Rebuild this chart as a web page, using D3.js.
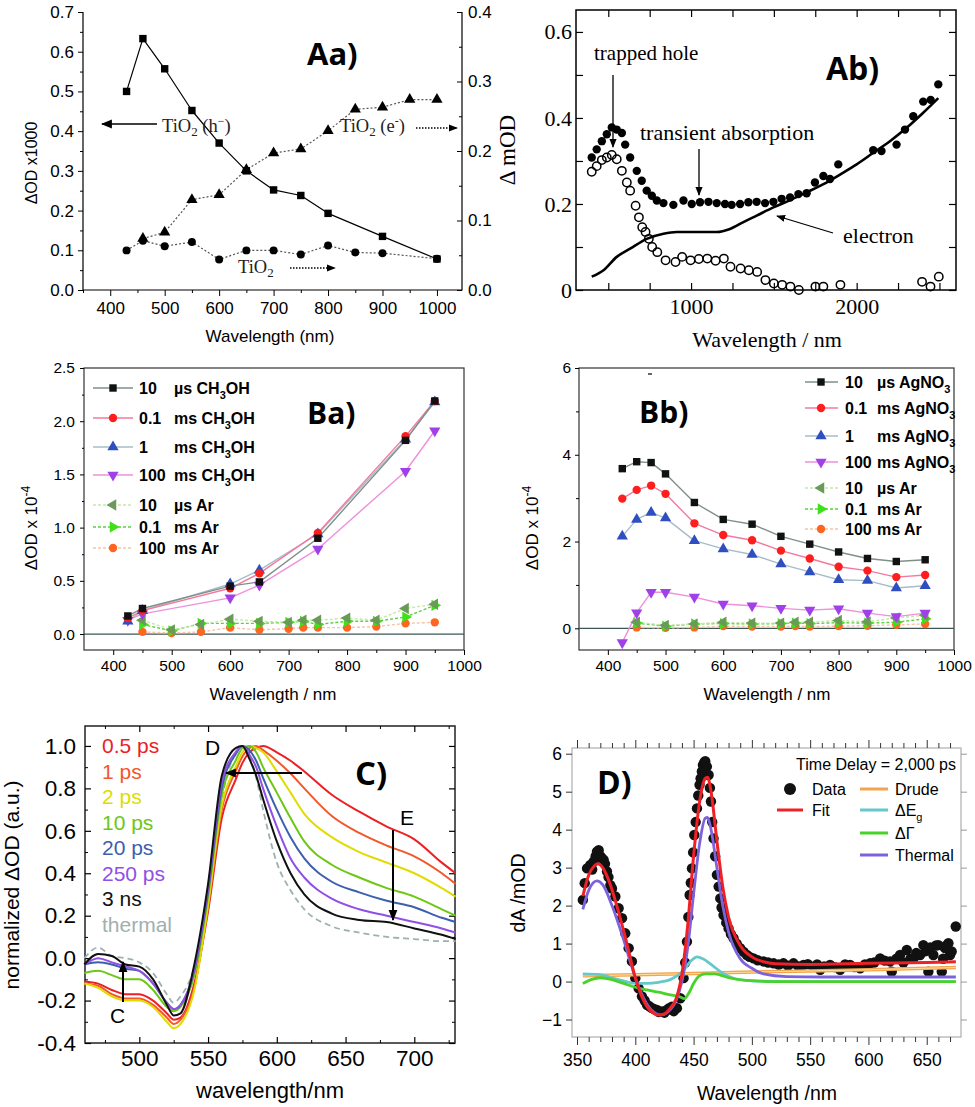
<!DOCTYPE html>
<html><head><meta charset="utf-8">
<script src="https://cdn.jsdelivr.net/npm/d3@7"></script>
<style>body{margin:0;background:#fff}svg{display:block}</style>
</head><body>
<svg width="975" height="1107"></svg>
<script>
// ---------------- DATA ----------------
// Panel Aa
const aaWl_h = [430,460,500,550,600,650,700,750,800,900,1000];
const aaHole = [0.50,0.633,0.557,0.452,0.37,0.30,0.252,0.238,0.193,0.135,0.078]; // left axis
const aaWl_e = [460,500,550,600,650,700,750,800,850,900,950,1000];
const aaElec = [0.074,0.083,0.130,0.137,0.173,0.197,0.203,0.229,0.260,0.263,0.274,0.274]; // right axis
const aaWl_t = [430,460,500,550,600,650,700,750,800,850,900,1000];
const aaTiO2 = [0.057,0.071,0.063,0.069,0.044,0.057,0.057,0.051,0.064,0.054,0.053,0.045]; // right axis
const aaXTicks = [400,500,600,700,800,900,1000];
const aaYTicks = [0,0.1,0.2,0.3,0.4,0.5,0.6,0.7];
const aaY2Ticks = [0,0.1,0.2,0.3,0.4];

// Panel Ab
const abWl_ta = [400,430,461,491,521,551,582,602,632,672,702,732,763,793,833,893,954,1004,1054,1105,1155,1205,1245,1296,1346,1396,1447,1497,1547,1598,1648,1698,1748,1799,1839,1889,2100,2150,2241,2292,2342,2402,2447,2493];
const abTA = [0.308,0.327,0.346,0.362,0.378,0.373,0.365,0.338,0.308,0.277,0.254,0.231,0.219,0.208,0.202,0.198,0.208,0.2,0.204,0.205,0.202,0.2,0.198,0.2,0.204,0.205,0.202,0.205,0.212,0.215,0.223,0.225,0.25,0.265,0.258,0.292,0.325,0.323,0.338,0.373,0.404,0.438,0.442,0.478];
const abWl_th = [400,430,461,491,521,551,582,612,632,665,685,705,725,745,765,796,846,906,946,997,1047,1098,1148,1198,1238,1299,1349,1399,1449,1500,1550,1600,1651,1751,1799,1902,2395,2446,2496];
const abTH = [0.275,0.288,0.302,0.308,0.314,0.304,0.277,0.25,0.231,0.196,0.169,0.146,0.135,0.119,0.1,0.088,0.069,0.065,0.077,0.069,0.072,0.073,0.068,0.073,0.054,0.05,0.046,0.042,0.023,0.015,0.012,0.008,0.0,0.008,0.008,0.012,0.019,0.008,0.031];
const abWl_el = [400,471,551,632,732,833,914,1034,1155,1235,1316,1396,1497,1598,1698,1799,1902,2000,2100,2201,2302,2402,2493];
const abEl = [0.031,0.046,0.077,0.096,0.119,0.131,0.135,0.135,0.135,0.142,0.158,0.173,0.192,0.209,0.227,0.246,0.269,0.292,0.319,0.346,0.377,0.412,0.446];
const abXTicks = [500,750,1000,1250,1500,1750,2000,2250,2500];
const abYTicks = [0,0.1,0.2,0.3,0.4,0.5,0.6];

// Panel Ba
const baWl = [425,450,600,650,750,900,950];
const ba10us = [0.17,0.24,0.45,0.49,0.90,1.82,2.19];
const ba01ms = [0.15,0.22,0.43,0.57,0.95,1.86,2.19];
const ba1ms = [0.12,0.22,0.47,0.60,0.94,1.83,2.18];
const ba100ms = [0.13,0.19,0.34,0.46,0.80,1.53,1.91];
const baWlAr = [450,500,550,600,650,700,725,750,800,850,900,950];
const baAr10us = [0.13,0.04,0.09,0.14,0.12,0.11,0.13,0.13,0.15,0.13,0.24,0.28];
const baAr01ms = [0.09,0.03,0.10,0.10,0.10,0.11,0.12,0.09,0.12,0.12,0.16,0.27];
const baAr100ms = [0.02,0.01,0.02,0.06,0.04,0.05,0.06,0.06,0.06,0.07,0.10,0.11];
const baLegendNum = ["10","0.1","1","100","10","0.1","100"];
const baLegendUnit = ["µs","ms","ms","ms","µs","ms","ms"];
const baLegendSub = ["CH3OH","CH3OH","CH3OH","CH3OH","Ar","Ar","Ar"];
const bXTicks = [400,500,600,700,800,900,1000];
const baYTicks = [0,0.5,1.0,1.5,2.0,2.5];

// Panel Bb
const bbWl = [425,450,475,500,550,600,650,700,750,800,850,900,950];
const bb10us = [3.68,3.84,3.82,3.56,2.90,2.51,2.40,2.12,1.94,1.76,1.61,1.54,1.58];
const bb01ms = [2.99,3.19,3.29,3.10,2.42,2.15,2.03,1.79,1.61,1.42,1.33,1.18,1.23];
const bb1ms = [2.12,2.51,2.67,2.54,2.02,1.83,1.70,1.48,1.30,1.12,1.10,0.93,0.98];
const bb100ms = [-0.33,0.36,0.83,0.83,0.72,0.56,0.52,0.46,0.42,0.45,0.35,0.27,0.35];
const bbWlAr = [450,500,550,600,650,700,725,750,800,850,900,950];
const bbAr10us = [0.14,0.07,0.10,0.14,0.12,0.12,0.14,0.14,0.18,0.15,0.24,0.30];
const bbAr01ms = [0.12,0.05,0.10,0.11,0.10,0.11,0.12,0.11,0.13,0.12,0.14,0.22];
const bbAr100ms = [0.02,0.01,0.02,0.05,0.04,0.04,0.05,0.04,0.05,0.06,0.08,0.10];
const bbLegendSub = ["AgNO3","AgNO3","AgNO3","AgNO3","Ar","Ar","Ar"];
const bbYTicks = [0,2,4,6];

// Panel C
const cWl = [460,470,480,490,500,510,520,525,530,540,550,560,570,575,580,585,590,600,610,620,640,660,680,700,720,730];
const c05ps = [-0.11,-0.12,-0.15,-0.17,-0.17,-0.2,-0.26,-0.29,-0.28,-0.12,0.22,0.66,0.84,0.92,0.97,0.99,1.0,0.97,0.93,0.88,0.77,0.69,0.62,0.56,0.45,0.40];
const c1ps = [-0.12,-0.13,-0.17,-0.19,-0.19,-0.22,-0.28,-0.31,-0.29,-0.14,0.24,0.70,0.88,0.95,0.99,1.0,0.98,0.93,0.87,0.80,0.67,0.59,0.53,0.48,0.40,0.35];
const c2ps = [-0.12,-0.14,-0.18,-0.2,-0.2,-0.23,-0.3,-0.33,-0.31,-0.15,0.25,0.72,0.90,0.97,1.0,0.99,0.97,0.88,0.78,0.68,0.57,0.50,0.45,0.40,0.33,0.29];
const c10ps = [-0.07,-0.06,-0.08,-0.1,-0.1,-0.15,-0.23,-0.25,-0.23,-0.08,0.29,0.77,0.93,0.99,1.0,0.97,0.9,0.78,0.66,0.55,0.44,0.38,0.33,0.29,0.23,0.20];
const c20ps = [-0.03,-0.02,-0.03,-0.05,-0.06,-0.12,-0.21,-0.24,-0.22,-0.06,0.31,0.80,0.96,1.0,0.98,0.93,0.85,0.70,0.57,0.47,0.36,0.31,0.27,0.24,0.19,0.17];
const c250ps = [-0.03,0.0,-0.02,-0.04,-0.06,-0.12,-0.21,-0.24,-0.22,-0.05,0.33,0.83,0.97,1.0,0.96,0.9,0.80,0.62,0.47,0.38,0.28,0.23,0.20,0.17,0.14,0.12];
const c3ns = [-0.03,0.02,0.01,-0.03,-0.04,-0.1,-0.22,-0.27,-0.26,-0.03,0.35,0.86,0.99,1.0,0.94,0.86,0.75,0.55,0.40,0.30,0.21,0.18,0.17,0.14,0.11,0.09];
const cThermal = [0.0,0.05,0.01,0.0,-0.02,-0.07,-0.17,-0.21,-0.18,-0.04,0.30,0.75,0.97,1.0,0.96,0.85,0.70,0.45,0.32,0.23,0.15,0.12,0.10,0.09,0.08,0.08];
const cLabels = ["0.5 ps","1 ps","2 ps","10 ps","20 ps","250 ps","3 ns","thermal"];
const cXTicks = [500,550,600,650,700];
const cYTicks = [-0.4,-0.2,0,0.2,0.4,0.6,0.8,1.0];

// Panel D
const dDataWl = [355,356.6,358.6,360,361.4,363,364.3,366,367.1,368.6,370,371.4,372.9,374,375.7,377,378.6,380,382.9,385.7,388.6,391.4,394.3,397.1,400,402.9,405.7,408,410,412,414.3,416,418.6,420,422.9,425,427.1,429,431.4,433,435.7,438.6,441.4,442.8,444.3,445.5,446.6,447.6,448.6,449.6,450.6,451.8,452.9,454,455.1,456,457.1,458,459.1,460,461.4,462.9,464,464.9,466,467.1,468.5,470,471.5,472.9,474,475.7,478,480,482,484.3,487,490,493,495.7,498,501.4,505,510,514,518.6,523,527.1,531,535.7,540,544.3,548,552.9,556,558.6,562,567.1,571,575.7,580,584.3,588,592.9,597,601.4,605,610,614,618.6,620,624,627.1,630,632.9,636,638.6,641,644.3,647.1,649,651.4,653,655.7,658,660,662.9,664,665.7,667,668.6,670,671.4,674.9];
const dData = [2.15,2.59,2.98,3.0,3.07,2.95,3.16,3.3,3.42,3.46,3.3,3.25,3.2,3.1,2.9,2.75,2.54,2.45,2.24,1.93,1.67,1.27,0.88,0.53,0.09,-0.18,-0.39,-0.5,-0.61,-0.65,-0.70,-0.72,-0.75,-0.8,-0.79,-0.82,-0.75,-0.7,-0.66,-0.78,-0.70,-0.44,0.09,0.5,1.05,1.7,2.28,2.6,2.98,3.4,3.86,4.2,4.56,4.9,5.18,5.35,5.53,5.7,5.77,5.8,5.66,5.44,5.1,4.74,4.2,3.77,3.3,2.81,2.5,2.19,1.95,1.75,1.55,1.40,1.25,1.14,1.0,0.88,0.78,0.70,0.65,0.61,0.56,0.53,0.5,0.48,0.45,0.48,0.42,0.48,0.4,0.44,0.46,0.39,0.45,0.31,0.4,0.44,0.38,0.31,0.45,0.44,0.38,0.35,0.45,0.48,0.5,0.61,0.55,0.53,0.26,0.6,0.70,0.5,0.83,0.6,0.61,0.75,0.70,0.96,0.8,0.26,0.9,0.70,0.95,0.96,0.26,0.6,0.88,0.95,1.01,0.7,0.79,1.45];
const dFitWl = [355,360,365,368,372,378,385,392,400,408,415,420,425,430,435,440,445,450,455,460,462,465,470,475,480,490,500,510,520,550,600,650,675];
const dFit = [2.25,2.8,3.05,3.1,3.0,2.6,1.9,1.1,0.1,-0.55,-0.82,-0.88,-0.85,-0.7,-0.45,0.2,1.5,3.3,4.7,5.35,5.38,5.0,3.7,2.5,1.7,0.95,0.65,0.52,0.47,0.45,0.48,0.5,0.52];
const dThWl = [355,360,367,372,380,390,400,410,418,422,428,435,440,445,450,455,460,462,465,470,475,480,490,500,510,530,560,675];
const dThermal = [1.9,2.4,2.65,2.55,2.0,1.1,0.1,-0.6,-0.85,-0.88,-0.8,-0.5,0.0,0.9,2.3,3.6,4.3,4.32,4.0,3.0,2.0,1.3,0.6,0.35,0.2,0.13,0.12,0.12];
const dEgWl = [355,370,380,390,400,410,420,430,440,448,453,458,465,475,485,500,550,675];
const dEg = [0.2,0.18,0.1,0.02,-0.05,-0.05,-0.02,0.05,0.25,0.55,0.65,0.6,0.45,0.22,0.08,0.02,0.0,0.0];
const dGWl = [355,362,370,380,390,400,410,420,430,438,442,446,450,455,460,468,480,495,520,675];
const dGamma = [-0.05,0.05,0.1,0.05,-0.05,-0.15,-0.22,-0.28,-0.35,-0.4,-0.45,-0.3,-0.05,0.15,0.2,0.2,0.1,0.03,0.0,0.0];
const dDrWl = [355,400,450,500,550,600,650,675];
const dDrude = [0.15,0.18,0.21,0.25,0.28,0.31,0.35,0.37];
const dXTicks = [350,400,450,500,550,600,650];
const dYTicks = [-1,0,1,2,3,4,5,6];

// ---------------- DRAWING ----------------
const SANS = "'Liberation Sans', Arial, sans-serif";
const SERIF = "'Liberation Serif', 'Times New Roman', serif";
const BOLDF = "'Open Sans', 'Liberation Sans', sans-serif";
const svg = d3.select("svg");
svg.append("rect").attr("width",975).attr("height",1107).attr("fill","#fff");
const defs = svg.append("defs");
defs.append("marker").attr("id","ah").attr("viewBox","0 0 10 10").attr("refX",9).attr("refY",5)
  .attr("markerUnits","userSpaceOnUse").attr("markerWidth",11).attr("markerHeight",11).attr("orient","auto")
  .append("path").attr("d","M0,1L10,5L0,9z").attr("fill","#000");
defs.append("marker").attr("id","ahs").attr("viewBox","0 0 10 10").attr("refX",9).attr("refY",5)
  .attr("markerUnits","userSpaceOnUse").attr("markerWidth",9).attr("markerHeight",9).attr("orient","auto")
  .append("path").attr("d","M0,1L10,5L0,9z").attr("fill","#000");

function ax(sc, orient, at, vals, o){
  const gen = {bottom:d3.axisBottom, top:d3.axisTop, left:d3.axisLeft, right:d3.axisRight}[orient];
  const a = gen(sc).tickValues(vals).tickSizeOuter(0).tickSizeInner(o.len).tickPadding(o.pad||4)
    .tickFormat(o.fmt || (()=>""));
  const g = svg.append("g")
    .attr("transform", (orient==="bottom"||orient==="top") ? `translate(0,${at})` : `translate(${at},0)`)
    .call(a);
  g.select(".domain").remove();
  g.selectAll(".tick line").attr("stroke", o.color||"#000").attr("stroke-width", o.sw||1);
  g.selectAll(".tick text").attr("font-family", o.font||SANS).attr("font-size", o.size||14).attr("fill","#000");
  return g;
}
function txt(x,y,s,o={}){
  return svg.append("text").attr("x",x).attr("y",y).attr("font-family",o.font||SANS)
    .attr("font-size",o.size||14).attr("font-weight",o.weight||"normal").attr("fill",o.fill||"#000")
    .attr("text-anchor",o.anchor||"start").text(s);
}
function rtxt(x,y,o){ // rotated text
  return svg.append("text").attr("transform",`translate(${x},${y}) rotate(-90)`).attr("text-anchor","middle")
    .attr("font-family",o.font||SANS).attr("font-size",o.size||14).attr("fill","#000");
}
function arrow(x1,y1,x2,y2,o={}){
  svg.append("line").attr("x1",x1).attr("y1",y1).attr("x2",x2).attr("y2",y2)
    .attr("stroke","#000").attr("stroke-width",o.sw||1.5).attr("stroke-dasharray",o.dash||null)
    .attr("marker-end",`url(#${o.m||"ah"})`);
}
const symType = {square:[d3.symbolSquare,0], circle:[d3.symbolCircle,0], up:[d3.symbolTriangle,0],
  down:[d3.symbolTriangle,180], left:[d3.symbolTriangle,-90], right:[d3.symbolTriangle,90]};
function marks(xs, ys, xsc, ysc, o){
  const [t,rot] = symType[o.shape];
  const p = d3.symbol().type(t).size(o.size||60)();
  svg.append("g").selectAll("path").data(xs).join("path")
    .attr("d",p).attr("transform",(d,i)=>`translate(${xsc(d)},${ysc(ys[i])}) rotate(${rot})`)
    .attr("fill",o.fill).attr("stroke",o.stroke||"none").attr("stroke-width",o.sw||1);
}
function line(xs, ys, xsc, ysc, o){
  const ln = d3.line().x((d,i)=>xsc(xs[i])).y((d,i)=>ysc(ys[i])).curve(o.curve||d3.curveLinear);
  svg.append("path").attr("d",ln(xs)).attr("fill","none").attr("stroke",o.color)
    .attr("stroke-width",o.sw||1.2).attr("stroke-dasharray",o.dash||null).attr("stroke-linejoin","round");
}
function tio(x,y,sup){
  const t = txt(x,y,"TiO",{font:SERIF,size:18.5,fill:"#222"});
  t.append("tspan").attr("dy",4).attr("font-size",13).text("2");
  if (sup!==undefined){
    t.append("tspan").attr("dy",-4).text(" ("+sup[0]);
    t.append("tspan").attr("dy",-7).attr("font-size",12).text(sup[1]);
    t.append("tspan").attr("dy",7).text(")");
  }
}

// ===== Panel Aa =====
{
  const x = d3.scaleLinear([350,1046],[83,462]);
  const y = d3.scaleLinear([0,0.7],[290,12]);
  const y2 = d3.scaleLinear([0,0.4],[290,12]);
  svg.append("path").attr("d","M83,12V290H462V12").attr("fill","none").attr("stroke","#000").attr("stroke-width",1.2);
  ax(x,"bottom",290,aaXTicks,{len:6,pad:6,fmt:d3.format("d"),size:17});
  ax(x,"bottom",290,[350,450,550,650,750,850,950],{len:3});
  ax(y,"left",83,aaYTicks,{len:5,pad:4,fmt:d3.format(".1f"),size:17});
  ax(y,"left",83,[0.05,0.15,0.25,0.35,0.45,0.55,0.65],{len:3});
  ax(y2,"right",462,aaY2Ticks,{len:-5,pad:6,fmt:d3.format(".1f"),size:17});
  ax(y2,"right",462,[0.05,0.15,0.25,0.35],{len:-3});
  line(aaWl_h,aaHole,x,y,{color:"#000",sw:1.2});
  line(aaWl_e,aaElec,x,y2,{color:"#555",sw:1.2,dash:"2,2"});
  line(aaWl_t,aaTiO2,x,y2,{color:"#555",sw:1.2,dash:"2,2"});
  marks(aaWl_h,aaHole,x,y,{shape:"square",size:55,fill:"#000"});
  marks(aaWl_e,aaElec,x,y2,{shape:"up",size:55,fill:"#000"});
  marks(aaWl_t,aaTiO2,x,y2,{shape:"circle",size:50,fill:"#000"});
  rtxt(37,163,{size:16}).text("ΔOD x1000");
  txt(270,342,"Wavelength (nm)",{size:17,anchor:"middle"});
  txt(307,65,"Aa)",{font:BOLDF,size:31,weight:"bold"});
  arrow(157,124,102,124,{sw:1.5});
  tio(162,132,["h","−"]);
  tio(340,132,["e","-"]);
  arrow(416,128,457,128,{sw:1.5,dash:"1.5,1.5",m:"ahs"});
  tio(238,273);
  arrow(290,268,335,268,{sw:1.5,dash:"1.5,1.5",m:"ahs"});
}

// ===== Panel Ab =====
{
  const x = d3.scaleLinear([305,2600],[576,956]);
  const y = d3.scaleLinear([0,0.651],[290,10]);
  svg.append("rect").attr("x",576).attr("y",10).attr("width",380).attr("height",280).attr("fill","none").attr("stroke","#000").attr("stroke-width",1.5);
  ax(x,"bottom",290,abXTicks,{len:-7,pad:8,fmt:d=>(d===1000||d===2000)?d:"",font:SERIF,size:22,sw:1.2});
  ax(x,"top",10,abXTicks,{len:-7,sw:1.2});
  ax(y,"left",576,abYTicks,{len:-7,pad:4,fmt:d=>d===0?"0":([0.2,0.4,0.6].includes(d)?d3.format(".1f")(d):""),font:SERIF,size:22,sw:1.2});
  ax(y,"right",956,abYTicks,{len:-7,sw:1.2});
  line(abWl_el,abEl,x,y,{color:"#000",sw:2.6,curve:d3.curveMonotoneX});
  marks(abWl_th,abTH,x,y,{shape:"circle",size:55,fill:"none",stroke:"#000",sw:1.5});
  marks(abWl_ta,abTA,x,y,{shape:"circle",size:55,fill:"#000"});
  rtxt(515,150,{font:SERIF,size:23}).text("Δ mOD");
  txt(767,347,"Wavelength / nm",{font:SERIF,size:22,anchor:"middle"});
  txt(826,80,"Ab)",{font:BOLDF,size:32,weight:"bold"});
  txt(594,60,"trapped hole",{font:SERIF,size:21});
  arrow(613,75,613,147,{sw:1.3,m:"ahs"});
  txt(640,140,"transient absorption",{font:SERIF,size:22});
  arrow(699,149,699,195,{sw:1.3,m:"ahs"});
  txt(843,243,"electron",{font:SERIF,size:22});
  arrow(833,233,777,216,{sw:1.3,m:"ahs"});
}

// helper for B legends
function bLegend(x0, x1, xm, xNum, xUnit, rows, entries, nums, units, subs){
  entries.forEach((e,i)=>{
    const yy = rows[i];
    svg.append("line").attr("x1",x0).attr("x2",x1).attr("y1",yy).attr("y2",yy).attr("stroke",e.color).attr("stroke-width",1.4).attr("stroke-dasharray",e.dash||null);
    marks([0],[0],()=>xm,()=>yy,{shape:e.shape,size:55,fill:e.fill});
    txt(xNum,yy+6,nums[i],{size:16,weight:"bold"});
    const s = subs[i];
    const t = txt(xUnit,yy+6,units[i]+" ",{size:16,weight:"bold"});
    const m = s.match(/^([A-Za-z]+)(\d)?([A-Za-z]*)$/);
    t.append("tspan").text(m[1]);
    if (m[2]) { t.append("tspan").attr("dy",5).attr("font-size",11).text(m[2]); t.append("tspan").attr("dy",-5).text(m[3]); }
  });
}
const bStyles = [
  {shape:"square",fill:"#111",color:"#7f9088"},
  {shape:"circle",fill:"#ff1e1e",color:"#f27aa0"},
  {shape:"up",fill:"#2f4fc0",color:"#a6bcc8"},
  {shape:"down",fill:"#a040e8",color:"#ee90dc"},
  {shape:"left",fill:"#6a9a58",color:"#c8e6a8",dash:"3,2"},
  {shape:"right",fill:"#3ee01a",color:"#5cd040",dash:"3,2"},
  {shape:"circle",fill:"#ff6420",color:"#f8c4a4",dash:"3,2"}
];

// ===== Panel Ba =====
{
  const x = d3.scaleLinear([350,1000],[84,464]);
  const y = d3.scaleLinear([-0.15,2.5],[650,368]);
  svg.append("rect").attr("x",84).attr("y",368).attr("width",380).attr("height",282).attr("fill","none").attr("stroke","#333").attr("stroke-width",1.2);
  svg.append("line").attr("x1",84).attr("x2",464).attr("y1",y(0)).attr("y2",y(0)).attr("stroke","#3d5656").attr("stroke-width",1.3);
  ax(x,"bottom",650,bXTicks,{len:5,pad:5,fmt:d3.format("d"),size:15.5});
  ax(x,"bottom",650,[450,550,650,750,850,950],{len:3});
  ax(y,"left",84,baYTicks,{len:4,pad:5,fmt:d3.format(".1f"),size:15.5});
  ax(y,"left",84,[0.25,0.75,1.25,1.75,2.25],{len:2});
  const S = [[baWl,ba10us],[baWl,ba01ms],[baWl,ba1ms],[baWl,ba100ms],[baWlAr,baAr10us],[baWlAr,baAr01ms],[baWlAr,baAr100ms]];
  [6,5,4,3,2,1,0].forEach(i=>line(S[i][0],S[i][1],x,y,{color:bStyles[i].color,sw:1.4,dash:bStyles[i].dash}));
  [6,5,4,3,2,1,0].forEach(i=>marks(S[i][0],S[i][1],x,y,{shape:bStyles[i].shape,size:55,fill:bStyles[i].fill}));
  bLegend(93,133,113,139,174,[388,418,447,475,505,527,548],bStyles,baLegendNum,baLegendUnit,baLegendSub);
  txt(307,424,"Ba)",{font:BOLDF,size:30,weight:"bold"});
  const yl = rtxt(37,528,{size:17}); yl.text("ΔOD x 10"); yl.append("tspan").attr("dy",-7).attr("font-size",12).text("-4");
  txt(273,700,"Wavelength / nm",{size:17,anchor:"middle"});
}

// ===== Panel Bb =====
{
  const x = d3.scaleLinear([350,1000],[579,954]);
  const y = d3.scaleLinear([-0.5,6],[650,368]);
  svg.append("rect").attr("x",579).attr("y",368).attr("width",375).attr("height",282).attr("fill","none").attr("stroke","#333").attr("stroke-width",1.2);
  svg.append("line").attr("x1",579).attr("x2",954).attr("y1",y(0)).attr("y2",y(0)).attr("stroke","#3d5656").attr("stroke-width",1.3);
  ax(x,"bottom",650,bXTicks,{len:5,pad:5,fmt:d3.format("d"),size:15.5});
  ax(x,"bottom",650,[450,550,650,750,850,950],{len:3});
  ax(y,"left",579,bbYTicks,{len:4,pad:4,fmt:d3.format("d"),size:15.5});
  ax(y,"left",579,[1,3,5],{len:3});
  const S = [[bbWl,bb10us],[bbWl,bb01ms],[bbWl,bb1ms],[bbWl,bb100ms],[bbWlAr,bbAr10us],[bbWlAr,bbAr01ms],[bbWlAr,bbAr100ms]];
  [6,5,4,3,2,1,0].forEach(i=>line(S[i][0],S[i][1],x,y,{color:bStyles[i].color,sw:1.4,dash:bStyles[i].dash}));
  [6,5,4,3,2,1,0].forEach(i=>marks(S[i][0],S[i][1],x,y,{shape:bStyles[i].shape,size:55,fill:bStyles[i].fill}));
  bLegend(805,838,821,845,877,[382,408,436,462,488,509,529],bStyles,baLegendNum,baLegendUnit,bbLegendSub);
  svg.append("line").attr("x1",648).attr("x2",652).attr("y1",374).attr("y2",374).attr("stroke","#000").attr("stroke-width",1.2);
  txt(639,423,"Bb)",{font:BOLDF,size:30,weight:"bold"});
  const yl = rtxt(538,528,{size:17}); yl.text("ΔOD x 10"); yl.append("tspan").attr("dy",-7).attr("font-size",12).text("-4");
  txt(767,700,"Wavelength / nm",{size:17,anchor:"middle"});
}

// ===== Panel C =====
{
  const x = d3.scaleLinear([460.5,729.6],[85,455]);
  const y = d3.scaleLinear([-0.4,1.094],[1043,726]);
  svg.append("rect").attr("x",85).attr("y",726).attr("width",370).attr("height",317).attr("fill","none").attr("stroke","#222").attr("stroke-width",1.5);
  ax(x,"bottom",1043,cXTicks,{len:-6,pad:7,fmt:d3.format("d"),size:22.5,sw:1.2});
  ax(x,"bottom",1043,[475,525,575,625,675,725],{len:-3});
  ax(x,"top",726,cXTicks,{len:-6,sw:1.2});
  ax(x,"top",726,[475,525,575,625,675,725],{len:-3});
  ax(y,"left",85,cYTicks,{len:-6,pad:9,fmt:d=>d3.format(".1f")(d).replace("−","-"),size:22.5,sw:1.2});
  ax(y,"left",85,[-0.3,-0.1,0.1,0.3,0.5,0.7,0.9],{len:-3});
  ax(y,"right",455,cYTicks,{len:-6,sw:1.2});
  ax(y,"right",455,[-0.3,-0.1,0.1,0.3,0.5,0.7,0.9],{len:-3});
  const cSeries = [c05ps,c1ps,c2ps,c10ps,c20ps,c250ps,c3ns,cThermal];
  const cColors = ["#ec2024","#f2582a","#e0dc00","#6cc814","#3c60ae","#9050e4","#111111","#9fb0b0"];
  [7,0,1,2,3,4,5,6].forEach(i=>line(cWl,cSeries[i],x,y,{color:cColors[i],sw:i===7?1.8:2,dash:i===7?"6,4":null,curve:d3.curveMonotoneX}));
  cLabels.forEach((l,i)=>txt(102,753+i*25.5,l,{size:21,fill:cColors[i]}));
  txt(205,755,"D",{size:21});
  arrow(302,773,226,773,{sw:2});
  txt(355,785,"C)",{font:BOLDF,size:33,weight:"bold"});
  txt(400,825,"E",{size:21});
  arrow(393,830,393,920,{sw:2});
  txt(110,1023,"C",{size:21});
  arrow(123,1002,123,962,{sw:2});
  rtxt(19,885,{size:21}).text("normalized ΔOD (a.u.)");
  txt(270,1098,"wavelength/nm",{size:22,anchor:"middle"});
}

// ===== Panel D =====
{
  const x = d3.scaleLinear([345.7,679.4],[572,961]);
  const y = d3.scaleLinear([-1.46,6.15],[1037,748]);
  svg.append("rect").attr("x",572).attr("y",748).attr("width",389).attr("height",289).attr("fill","none").attr("stroke","#b4b4b4").attr("stroke-width",1.3);
  const minorX = d3.range(360,680,10).filter(d=>d%50!==0);
  ax(x,"bottom",1037,dXTicks,{len:8,pad:9,fmt:d3.format("d"),size:17.5,color:"#333"});
  ax(x,"bottom",1037,minorX,{len:5,color:"#333"});
  ax(x,"top",748,dXTicks,{len:8,color:"#333"});
  ax(x,"top",748,minorX,{len:5,color:"#333"});
  ax(y,"left",572,dYTicks,{len:6,pad:4,fmt:d3.format("d"),size:17.5,color:"#333"});
  ax(y,"right",961,dYTicks,{len:6,color:"#999"});
  marks(dDataWl,dData,x,y,{shape:"circle",size:85,fill:"#111"});
  line(dDrWl,dDrude,x,y,{color:"#f3a44c",sw:3.5});
  line(dDrWl,dDrude,x,y,{color:"#ffe0a0",sw:1});
  line(dEgWl,dEg,x,y,{color:"#66c8ca",sw:2.8,curve:d3.curveMonotoneX});
  line(dGWl,dGamma,x,y,{color:"#48d22a",sw:2.8,curve:d3.curveMonotoneX});
  line(dThWl,dThermal,x,y,{color:"#7d62de",sw:2.8,curve:d3.curveMonotoneX});
  line(dFitWl,dFit,x,y,{color:"#ee2226",sw:3,curve:d3.curveMonotoneX});
  txt(956,770,"Time Delay = 2,000 ps",{size:16,anchor:"end"});
  svg.append("circle").attr("cx",790).attr("cy",789).attr("r",6).attr("fill","#111");
  txt(812,795,"Data",{size:16});
  svg.append("line").attr("x1",777).attr("x2",803).attr("y1",810).attr("y2",810).attr("stroke","#ee2226").attr("stroke-width",3);
  txt(812,816,"Fit",{size:16});
  const lg = [["#f3a44c",789,"Drude"],["#66c8ca",810,"ΔE"],["#48d22a",833,"ΔΓ"],["#7d62de",855,"Thermal"]];
  lg.forEach(([c,yy,l])=>{
    svg.append("line").attr("x1",860).attr("x2",888).attr("y1",yy).attr("y2",yy).attr("stroke",c).attr("stroke-width",3);
    const t = txt(895,yy+6,l,{size:16});
    if (l==="ΔE") t.append("tspan").attr("dy",5).attr("font-size",11).text("g");
  });
  txt(597,794,"D)",{font:BOLDF,size:32,weight:"bold"});
  rtxt(525,893,{size:19.5}).text("dA /mOD");
  txt(767,1100,"Wavelength /nm",{size:19.5,anchor:"middle"});
}
</script>
</body></html>
